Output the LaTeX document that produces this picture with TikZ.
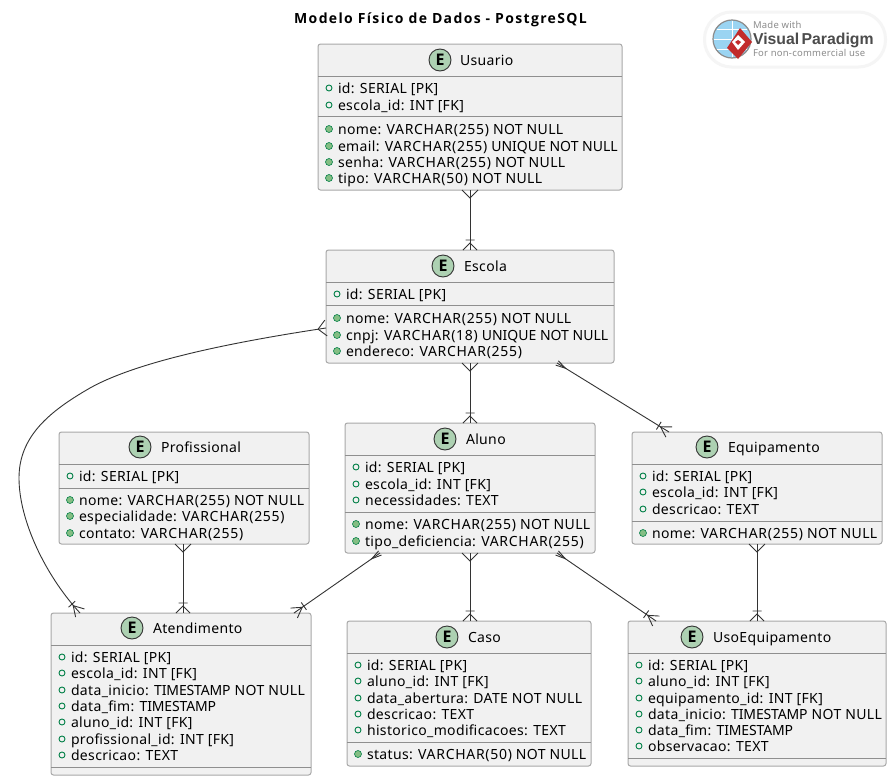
\documentclass[tikz,border=0pt]{standalone}
\usepackage{fontspec}
\setmainfont[LetterSpace=2.5]{Noto Sans}
\newfontfamily\titlefont[LetterSpace=9.6]{Open Sans}
\newfontfamily\badgefont{Open Sans}
\newfontfamily\logofont{Liberation Sans}
\newfontfamily\widef[LetterSpace=5]{Noto Sans}
\newfontfamily\tightf[LetterSpace=0]{Noto Sans}
\newfontfamily\tighterf[LetterSpace=-1]{Noto Sans}
\newcommand\VC[1]{{\widef VARCHAR(#1)}}
\newcommand\UQ{{\tightf UNIQUE NOT NULL}}
\newcommand\TS{{\tighterf TIMESTAMP}}
\usetikzlibrary{calc,arrows}
\definecolor{boxfill}{HTML}{F1F1F1}
\definecolor{boxline}{HTML}{A8A8A8}
\definecolor{sepline}{HTML}{8F8F8F}
\definecolor{linkc}{HTML}{333333}
\definecolor{circf}{HTML}{ADD1B2}
\definecolor{pub}{HTML}{84BE84}
\definecolor{pubd}{HTML}{038048}
\definecolor{globec}{HTML}{9AD4F2}
\definecolor{vpred}{HTML}{C22B2B}
\pgfarrowsdeclare{crowone}{crowone}{\pgfarrowsleftextend{-12pt}\pgfarrowsrightextend{0pt}}{%
  \pgfsetdash{}{0pt}\pgfsetlinewidth{0.9pt}%
  \pgfpathmoveto{\pgfpoint{0pt}{7pt}}\pgfpathlineto{\pgfpoint{-7pt}{0pt}}\pgfpathlineto{\pgfpoint{0pt}{-7pt}}%
  \pgfpathmoveto{\pgfpoint{-10pt}{4.5pt}}\pgfpathlineto{\pgfpoint{-10pt}{-4.5pt}}%
  \pgfusepathqstroke}
\pgfarrowsdeclare{crowobl}{crowobl}{\pgfarrowsleftextend{-14pt}\pgfarrowsrightextend{0pt}}{%
  \pgfsetdash{}{0pt}\pgfsetlinewidth{0.9pt}%
  \pgfpathmoveto{\pgfpoint{0pt}{6pt}}\pgfpathlineto{\pgfpoint{-10pt}{0pt}}\pgfpathlineto{\pgfpoint{0pt}{-6pt}}%
  \pgfpathmoveto{\pgfpoint{-12pt}{4.5pt}}\pgfpathlineto{\pgfpoint{-12pt}{-4.5pt}}%
  \pgfusepathqstroke}
\pgfarrowsdeclare{crowmany}{crowmany}{\pgfarrowsleftextend{-9pt}\pgfarrowsrightextend{0pt}}{%
  \pgfsetdash{}{0pt}\pgfsetlinewidth{0.9pt}%
  \pgfpathmoveto{\pgfpoint{0pt}{8pt}}\pgfpathlineto{\pgfpoint{-8pt}{0pt}}\pgfpathlineto{\pgfpoint{0pt}{-8pt}}%
  \pgfusepathqstroke}
\pgfarrowsdeclare{crowthin}{crowthin}{\pgfarrowsleftextend{-11pt}\pgfarrowsrightextend{0pt}}{%
  \pgfsetdash{}{0pt}\pgfsetlinewidth{0.9pt}%
  \pgfpathmoveto{\pgfpoint{0pt}{2.5pt}}\pgfpathlineto{\pgfpoint{-10pt}{0pt}}\pgfpathlineto{\pgfpoint{0pt}{-2.5pt}}%
  \pgfusepathqstroke}
\tikzset{
  x=1pt,y=-1pt,
  every node/.style={inner sep=0pt,outer sep=0pt,font=\fontsize{14}{16}\selectfont,text=black},
  ebox/.style={draw=boxline,fill=boxfill,line width=1pt,rounded corners=2.5pt,inner sep=0pt,anchor=north west},
  sep/.style={draw=sepline,line width=0.9pt},
  badge/.style={circle,draw=black!80,fill=circf,line width=0.9pt,minimum size=22pt,font=\fontsize{16}{16}\selectfont\badgefont\bfseries},
  field/.style={anchor=base west},
  ttl/.style={anchor=base west},
  pk/.style={circle,draw=pubd,line width=0.9pt,minimum size=6pt,fill=none},
  nn/.style={circle,draw=pubd,fill=pub,line width=0.6pt,minimum size=7pt},
  link/.style={draw=linkc,line width=0.9pt},
  rel/.style={link,crowmany-crowone},
  relobl/.style={link,crowthin-crowobl},
  relcurve/.style={link,crowmany-crowobl},
}
\newcommand\rowopen[4]{\node[pk] (#1b) at (#2,#3) {};\node[field] (#1t) at (#2+9,#3+5) {#4};}
\newcommand\rowfull[4]{\node[nn] (#1b) at (#2,#3) {};\node[field] (#1t) at (#2+9,#3+5) {#4};}
\begin{document}
\begin{tikzpicture}
\useasboundingbox (0,0) rectangle (895,782);
\fill[white] (0,0) rectangle (895,782);
% title
\node[anchor=base] (title) at (440.5,23) {\fontsize{14}{14}\selectfont\titlefont\bfseries Modelo Físico de Dados - PostgreSQL};
% logo
\node[draw=black!4,line width=3pt,fill=white,rounded corners=27pt,minimum width=181pt,minimum height=55pt] (logo) at (795,39.5) {};
\node[circle,draw=black!45,line width=1.2pt,fill=globec,minimum size=38pt] (globe) at (732,39) {};
\draw[white,line width=.8pt] (714,39) -- (750,39) (732,21) -- (732,57) (717,29) -- (747,29) (717,49) -- (747,49);
\path[fill=vpred] (740,28) -- (752,42) -- (738,59) -- (727,48) -- cycle;
\path[fill=white] (738,35) -- (745,42) -- (738,50) -- (732,42) -- cycle;
\path[fill=vpred] (738,40) -- (741,42) -- (738,45) -- (735,42) -- cycle;
\node[anchor=base west,text=black!45] (lg1) at (753,28) {\fontsize{9.5}{10}\selectfont Made with};
\node[anchor=base west,text=black!70] (lg2) at (753,44) {\fontsize{15.8}{18}\selectfont\logofont\bfseries Visual\hspace{-2pt} Paradigm};
\node[anchor=base west,text=black!45] (lg3) at (753,56) {\fontsize{9.5}{10}\selectfont For non-commercial use};
% Usuario
\node[ebox,minimum width=304pt,minimum height=146pt] (Usuario) at (318,44) {};
\draw[sep] (318,76) -- (622,76) (318,116) -- (622,116);
\node[badge] (Ue) at (440,60) {E}; \node[ttl] (Ut) at (460,65) {Usuario};
\rowopen{u1}{329}{88}{id: SERIAL [PK]}
\rowopen{u2}{329}{105}{escola\_id: INT [FK]}
\rowfull{u3}{329}{129}{nome: \VC{255} NOT NULL}
\rowfull{u4}{329}{146}{email: \VC{255} \UQ}
\rowfull{u5}{329}{162}{senha: \VC{255} NOT NULL}
\rowfull{u6}{329}{178}{tipo: \VC{50} NOT NULL}
% Escola
\node[ebox,minimum width=288pt,minimum height=113pt] (Escola) at (326,250) {};
\draw[sep] (326,282) -- (614,282) (326,305) -- (614,305);
\node[badge] (Ee) at (443,266) {E}; \node[ttl] (Et) at (464,271) {Escola};
\rowopen{e1}{337}{294}{id: SERIAL [PK]}
\rowfull{e2}{337}{318}{nome: \VC{255} NOT NULL}
\rowfull{e3}{337}{335}{cnpj: \VC{18} \UQ}
\rowfull{e4}{337}{351}{endereco: \VC{255}}
% Profissional
\node[ebox,minimum width=250pt,minimum height=112pt] (Profissional) at (59,432) {};
\draw[sep] (59,464) -- (309,464) (59,488) -- (309,488);
\node[badge] (Pe) at (140,447) {E}; \node[ttl] (Pt) at (161,452) {Profissional};
\rowopen{p1}{70}{476}{id: SERIAL [PK]}
\rowfull{p2}{70}{500}{nome: \VC{255} NOT NULL}
\rowfull{p3}{70}{516}{especialidade: \VC{255}}
\rowfull{p4}{70}{533}{contato: \VC{255}}
% Aluno
\node[ebox,minimum width=250pt,minimum height=130pt] (Aluno) at (345,423) {};
\draw[sep] (345,455) -- (595,455) (345,512) -- (595,512);
\node[badge] (Ae) at (445,439) {E}; \node[ttl] (At) at (466,444) {Aluno};
\rowopen{a1}{356}{467}{id: SERIAL [PK]}
\rowopen{a2}{356}{484}{escola\_id: INT [FK]}
\rowopen{a3}{356}{500}{necessidades: TEXT}
\rowfull{a4}{356}{524}{nome: \VC{255} NOT NULL}
\rowfull{a5}{356}{541}{tipo\_deficiencia: \VC{255}}
% Equipamento
\node[ebox,minimum width=250pt,minimum height=112pt] (Equipamento) at (632,432) {};
\draw[sep] (632,464) -- (882,464) (632,521) -- (882,521);
\node[badge] (Qe) at (707,447) {E}; \node[ttl] (Qt) at (728,452) {Equipamento};
\rowopen{q1}{643}{476}{id: SERIAL [PK]}
\rowopen{q2}{643}{492}{escola\_id: INT [FK]}
\rowopen{q3}{643}{509}{descricao: TEXT}
\rowfull{q4}{643}{533}{nome: \VC{255} NOT NULL}
% Atendimento
\node[ebox,minimum width=260pt,minimum height=162pt] (Atendimento) at (51,613) {};
\draw[sep] (51,645) -- (311,645) (51,767) -- (311,767);
\node[badge] (Te) at (132,628) {E}; \node[ttl] (Tt) at (153,633) {Atendimento};
\rowopen{t1}{62}{657}{id: SERIAL [PK]}
\rowopen{t2}{62}{673}{escola\_id: INT [FK]}
\rowopen{t3}{62}{690}{data\_inicio: \TS{} NOT NULL}
\rowopen{t4}{62}{706}{data\_fim: \TS}
\rowopen{t5}{62}{722}{aluno\_id: INT [FK]}
\rowopen{t6}{62}{739}{profissional\_id: INT [FK]}
\rowopen{t7}{62}{755}{descricao: TEXT}
% Caso
\node[ebox,minimum width=244pt,minimum height=145pt] (Caso) at (347,621) {};
\draw[sep] (347,653) -- (591,653) (347,742) -- (591,742);
\node[badge] (Ce) at (447,637) {E}; \node[ttl] (Ct) at (468,642) {Caso};
\rowopen{c1}{358}{665}{id: SERIAL [PK]}
\rowopen{c2}{358}{681}{aluno\_id: INT [FK]}
\rowopen{c3}{358}{698}{data\_abertura: DATE NOT NULL}
\rowopen{c4}{358}{714}{descricao: TEXT}
\rowopen{c5}{358}{730}{historico\_modificacoes: TEXT}
\rowfull{c6}{358}{754}{status: \VC{50} NOT NULL}
% UsoEquipamento
\node[ebox,minimum width=258pt,minimum height=145pt] (UsoEquipamento) at (628,621) {};
\draw[sep] (628,653) -- (886,653) (628,758) -- (886,758);
\node[badge] (Se) at (692,637) {E}; \node[ttl] (St) at (713,642) {UsoEquipamento};
\rowopen{s1}{639}{665}{id: SERIAL [PK]}
\rowopen{s2}{639}{681}{aluno\_id: INT [FK]}
\rowopen{s3}{639}{698}{equipamento\_id: INT [FK]}
\rowopen{s4}{639}{714}{data\_inicio: \TS{} NOT NULL}
\rowopen{s5}{639}{730}{data\_fim: \TS}
\rowopen{s6}{639}{746}{observacao: TEXT}
% connectors
\draw[rel] (Usuario.south) -- (Escola.north);
\draw[rel] (Escola.south) -- (Aluno.north);
\draw[relobl] ([xshift=-57pt]Escola.south east) -- ([xshift=37pt]Equipamento.north west);
\draw[rel] ([xshift=-1pt]Profissional.south) -- ([xshift=2pt]Atendimento.north);
\draw[relobl] ([xshift=-215pt]Aluno.south east) -- ([xshift=-17pt]Atendimento.north east);
\draw[rel] (Aluno.south) -- ([xshift=1pt]Caso.north);
\draw[relobl] ([xshift=-38pt]Aluno.south east) -- ([xshift=28pt]UsoEquipamento.north west);
\draw[rel] (Equipamento.south) -- (UsoEquipamento.north);
\draw[relcurve] ([yshift=-78pt]Escola.north west) .. controls (240,341) and (140,360) .. (90,388) .. controls (50,411) and (19,436) .. (19,478) .. controls (19,520) and (45,575) .. ([xshift=29pt]Atendimento.north west);
\end{tikzpicture}
\end{document}
